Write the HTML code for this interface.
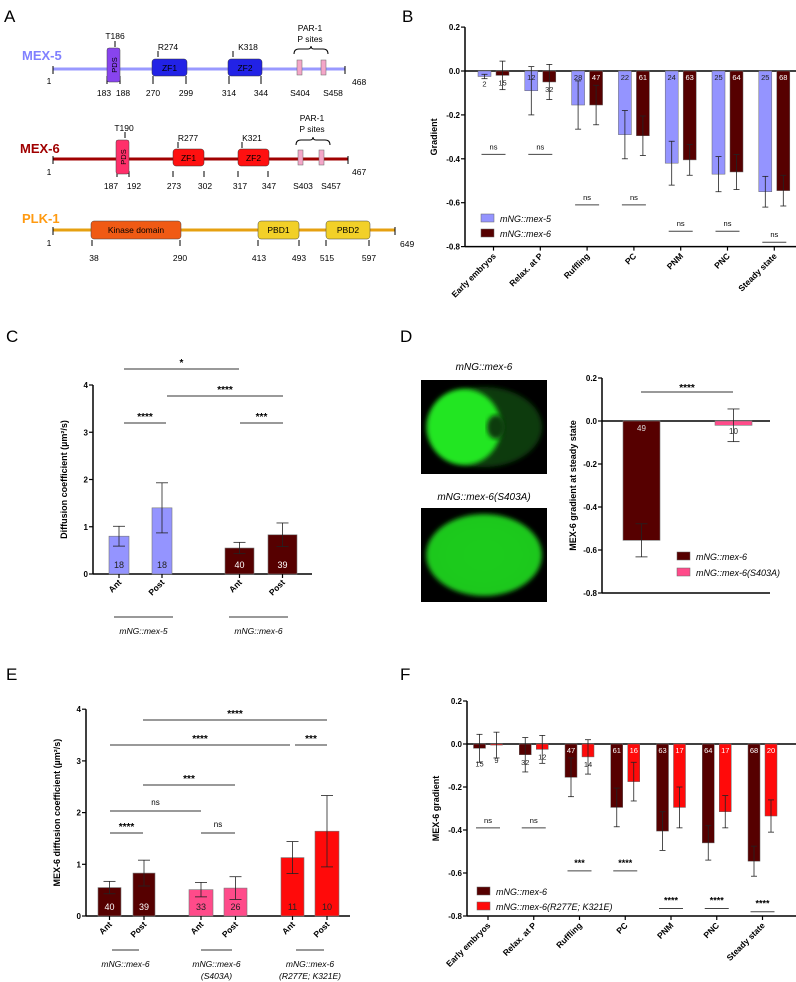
<!DOCTYPE html>
<html><head><meta charset="utf-8">
<style>
html,body{margin:0;padding:0;background:#fff;}
svg{display:block;font-family:"Liberation Sans",Arial,sans-serif;}
.pl{font-size:17px;}
</style></head>
<body>
<svg id="fig" width="796" height="982" viewBox="0 0 796 982" xmlns="http://www.w3.org/2000/svg">
<defs>
<radialGradient id="g2" cx="0.5" cy="0.5" r="0.6">
<stop offset="0" stop-color="#1ecc1e"/><stop offset="0.8" stop-color="#1ec81e"/><stop offset="1" stop-color="#0a3a0a"/></radialGradient>
<radialGradient id="g1" cx="0.4" cy="0.5" r="0.55">
<stop offset="0" stop-color="#26ee26"/><stop offset="0.85" stop-color="#22e022"/><stop offset="1" stop-color="#0d500d"/></radialGradient>
<filter id="blur"><feGaussianBlur stdDeviation="2.5"/></filter>
</defs>

<text x="4" y="22" class="pl">A</text>
<text x="402" y="22" class="pl">B</text>
<text x="6" y="342" class="pl">C</text>
<text x="400" y="342" class="pl">D</text>
<text x="6" y="680" class="pl">E</text>
<text x="400" y="680" class="pl">F</text>

<g font-size="8.5">
<g>
<text x="22" y="60" font-size="13" font-weight="bold" fill="#8080ff">MEX-5</text>
<line x1="53" y1="69" x2="345" y2="69" stroke="#9999ff" stroke-width="3"/>
<path d="M53,66v8M345,66v8M107,76v8M120,76v8M153,76v8M186,76v8M229,76v8M261,76v8M115,41v6M158,51v6M233,51v6" stroke="#000" stroke-width="1"/>
<rect x="107" y="48" width="13" height="34" rx="2" fill="#8844ee" stroke="#444" stroke-width="0.5"/>
<text transform="translate(117,65) rotate(-90)" text-anchor="middle" font-size="7.5">PDS</text>
<rect x="152" y="59" width="35" height="17" rx="3" fill="#2222e6" stroke="#333" stroke-width="0.5"/>
<text x="169.5" y="71" text-anchor="middle">ZF1</text>
<rect x="228" y="59" width="34" height="17" rx="3" fill="#2222e6" stroke="#333" stroke-width="0.5"/>
<text x="245" y="71" text-anchor="middle">ZF2</text>
<rect x="297" y="60" width="5" height="15" fill="#f4a6c8" stroke="#666" stroke-width="0.5"/>
<rect x="321" y="60" width="5" height="15" fill="#f4a6c8" stroke="#666" stroke-width="0.5"/>
<path d="M294,54q0,-5 5,-5h9q3,0 3,-3q0,3 3,3h9q5,0 5,5" fill="none" stroke="#000"/>
<text x="310" y="31" text-anchor="middle">PAR-1</text><text x="310" y="42" text-anchor="middle">P sites</text>
<text x="115" y="39" text-anchor="middle">T186</text><text x="168" y="50" text-anchor="middle">R274</text><text x="248" y="50" text-anchor="middle">K318</text>
<text x="49" y="84" text-anchor="middle">1</text><text x="352" y="85">468</text>
<text x="104" y="96" text-anchor="middle">183</text><text x="123" y="96" text-anchor="middle">188</text><text x="153" y="96" text-anchor="middle">270</text><text x="186" y="96" text-anchor="middle">299</text><text x="229" y="96" text-anchor="middle">314</text><text x="261" y="96" text-anchor="middle">344</text><text x="300" y="96" text-anchor="middle">S404</text><text x="333" y="96" text-anchor="middle">S458</text>
</g>
<g>
<text x="20" y="153" font-size="13" font-weight="bold" fill="#a00000">MEX-6</text>
<line x1="53" y1="159" x2="348" y2="159" stroke="#a00000" stroke-width="3"/>
<path d="M53,156v8M348,156v8M117,171v6M129,171v6M173,171v6M204,171v6M238,171v6M268,171v6M125,132v6M178,142v6M242,142v6" stroke="#000" stroke-width="1"/>
<rect x="116" y="140" width="13" height="34" rx="2" fill="#ff2f6a" stroke="#444" stroke-width="0.5"/>
<text transform="translate(126,157) rotate(-90)" text-anchor="middle" font-size="7.5">PDS</text>
<rect x="173" y="149" width="31" height="17" rx="3" fill="#ff1010" stroke="#333" stroke-width="0.5"/>
<text x="188.5" y="161" text-anchor="middle">ZF1</text>
<rect x="238" y="149" width="31" height="17" rx="3" fill="#ff1010" stroke="#333" stroke-width="0.5"/>
<text x="253.5" y="161" text-anchor="middle">ZF2</text>
<rect x="298" y="150" width="5" height="15" fill="#f4a6c8" stroke="#666" stroke-width="0.5"/>
<rect x="319" y="150" width="5" height="15" fill="#f4a6c8" stroke="#666" stroke-width="0.5"/>
<path d="M296,145q0,-5 5,-5h9q3,0 3,-3q0,3 3,3h9q5,0 5,5" fill="none" stroke="#000"/>
<text x="312" y="121" text-anchor="middle">PAR-1</text><text x="312" y="132" text-anchor="middle">P sites</text>
<text x="124" y="131" text-anchor="middle">T190</text><text x="188" y="141" text-anchor="middle">R277</text><text x="252" y="141" text-anchor="middle">K321</text>
<text x="49" y="175" text-anchor="middle">1</text><text x="352" y="175">467</text>
<text x="111" y="189" text-anchor="middle">187</text><text x="134" y="189" text-anchor="middle">192</text><text x="174" y="189" text-anchor="middle">273</text><text x="205" y="189" text-anchor="middle">302</text><text x="240" y="189" text-anchor="middle">317</text><text x="269" y="189" text-anchor="middle">347</text><text x="303" y="189" text-anchor="middle">S403</text><text x="331" y="189" text-anchor="middle">S457</text>
</g>
<g>
<text x="22" y="223" font-size="13" font-weight="bold" fill="#ff9a10">PLK-1</text>
<line x1="53" y1="230" x2="395" y2="230" stroke="#e6a010" stroke-width="3"/>
<path d="M53,227v8M395,227v8M92,240v6M180,240v6M258,240v6M299,240v6M326,240v6M369,240v6" stroke="#000"/>
<rect x="91" y="221" width="90" height="18" rx="3" fill="#f05a14" stroke="#444" stroke-width="0.5"/>
<text x="136" y="233" text-anchor="middle">Kinase domain</text>
<rect x="258" y="221" width="41" height="18" rx="3" fill="#f2d028" stroke="#444" stroke-width="0.5"/>
<text x="278.5" y="233" text-anchor="middle">PBD1</text>
<rect x="326" y="221" width="44" height="18" rx="3" fill="#f2d028" stroke="#444" stroke-width="0.5"/>
<text x="348" y="233" text-anchor="middle">PBD2</text>
<text x="49" y="246" text-anchor="middle">1</text><text x="400" y="247">649</text>
<text x="94" y="261" text-anchor="middle">38</text><text x="180" y="261" text-anchor="middle">290</text><text x="259" y="261" text-anchor="middle">413</text><text x="299" y="261" text-anchor="middle">493</text><text x="327" y="261" text-anchor="middle">515</text><text x="369" y="261" text-anchor="middle">597</text>
</g>
</g>

<g>
<text x="484" y="370" font-size="10" font-style="italic" text-anchor="middle">mNG::mex-6</text>
<rect x="421" y="380" width="126" height="94" fill="#000"/>
<ellipse cx="484" cy="427" rx="58" ry="40" fill="#0b3a0b" filter="url(#blur)"/>
<ellipse cx="464" cy="427" rx="37" ry="38" fill="#22e622" filter="url(#blur)"/>
<ellipse cx="496" cy="427" rx="9" ry="12" fill="#0b3a0b" filter="url(#blur)"/>
<text x="484" y="500" font-size="10" font-style="italic" text-anchor="middle">mNG::mex-6(S403A)</text>
<rect x="421" y="508" width="126" height="94" fill="#000"/>
<ellipse cx="484" cy="555" rx="58" ry="41" fill="url(#g2)" filter="url(#blur)"/>
</g>

<g id="charts"></g>
</svg>

<script>
const bCategories = ["Early embryos","Relax. at P","Ruffling","PC","PNM","PNC","Steady state"];
const bMex5 = [-0.025,-0.09,-0.155,-0.29,-0.42,-0.47,-0.55];
const bMex6 = [-0.02,-0.05,-0.155,-0.295,-0.405,-0.46,-0.545];
const bMex5Sd = [0.01,0.11,0.11,0.11,0.10,0.08,0.07];
const bMex6Sd = [0.065,0.08,0.09,0.09,0.07,0.08,0.07];
const bMex5N = [2,12,28,22,24,25,25];
const bMex6N = [15,32,47,61,63,64,68];
const bSigLabels = ["ns","ns","ns","ns","ns","ns","ns"];
const bSigLevels = [-0.38,-0.38,-0.61,-0.61,-0.73,-0.73,-0.78];
const gradTicks = [0.2,0,-0.2,-0.4,-0.6,-0.8];
const gradTickLabels = ["0.2","0.0","-0.2","-0.4","-0.6","-0.8"];

const cCategories = ["Ant","Post","Ant","Post"];
const cValues = [0.80,1.40,0.55,0.83];
const cSd = [0.21,0.53,0.12,0.25];
const cN = [18,18,40,39];
const diffTicks = [0,1,2,3,4];

const dCategories = ["mNG::mex-6","mNG::mex-6(S403A)"];
const dValues = [-0.555,-0.02];
const dSd = [0.077,0.076];
const dN = [49,10];

const eCategories = ["Ant","Post","Ant","Post","Ant","Post"];
const eValues = [0.55,0.83,0.51,0.54,1.13,1.64];
const eSd = [0.12,0.25,0.14,0.22,0.31,0.69];
const eN = [40,39,33,26,11,10];

const fMex6 = [-0.02,-0.05,-0.155,-0.295,-0.405,-0.46,-0.545];
const fMut = [-0.005,-0.025,-0.06,-0.175,-0.295,-0.315,-0.335];
const fMex6Sd = [0.065,0.08,0.09,0.09,0.09,0.08,0.07];
const fMutSd = [0.06,0.065,0.08,0.09,0.095,0.075,0.075];
const fMex6N = [15,32,47,61,63,64,68];
const fMutN = [9,12,14,16,17,17,20];
const fSigLabels = ["ns","ns","***","****","****","****","****"];
const fSigLevels = [-0.39,-0.39,-0.59,-0.59,-0.765,-0.765,-0.78];

const NS = "http://www.w3.org/2000/svg";
const root = document.getElementById("charts");
function mk(tag, attrs, parent){
  const el = document.createElementNS(NS, tag);
  for (const k in attrs) el.setAttribute(k, attrs[k]);
  (parent||root).appendChild(el);
  return el;
}
function txt(parent, x, y, s, extra){
  const t = mk("text", Object.assign({x:x,y:y}, extra||{}), parent);
  t.textContent = s;
  return t;
}
function lin(parent,x1,y1,x2,y2,c,w){ return mk("line",{x1:x1,y1:y1,x2:x2,y2:y2,stroke:c||"#000","stroke-width":w||1},parent); }
function errbar(parent,x,yv,ylo,yhi,hw){
  lin(parent,x,ylo,x,yhi,"#222",0.8);
  lin(parent,x-hw,ylo,x+hw,ylo,"#222",0.8);
  lin(parent,x-hw,yhi,x+hw,yhi,"#222",0.8);
}
function yAxis(g, x, ys, ticks, labels, top, bottom){
  lin(g,x,top,x,bottom,"#000",1.5);
  ticks.forEach((v,i)=>{
    const y = ys(v);
    lin(g,x-4,y,x,y,"#000",1.2);
    txt(g,x-5,y+3,labels[i],{"text-anchor":"end","font-size":"8","font-weight":"bold"});
  });
}
function ylabel(g,x,y,s){
  txt(g,0,0,s,{transform:"translate("+x+","+y+") rotate(-90)","text-anchor":"middle","font-size":"9","font-weight":"bold"});
}

function gradChart(cfg){
  const g = mk("g",{});
  
  
  const ys = v => cfg.y0 + (0 - v) * cfg.scale;
  yAxis(g, cfg.ax, ys, gradTicks, gradTickLabels, ys(0.2), ys(-0.8));
  lin(g,cfg.ax,ys(0),cfg.right,ys(0),"#000",1.5);
  lin(g,cfg.ax,ys(-0.8),cfg.right,ys(-0.8),"#000",1.5);
  ylabel(g,cfg.ax-28,ys(-0.3),cfg.ylab);
  const xs = i => cfg.c0 + i * cfg.step;
  bCategories.forEach((c,i)=>{
    const cx = xs(i);
    [[cfg.s1,cfg.sd1,cfg.n1,cfg.col1,-1,cfg.nc1],[cfg.s2,cfg.sd2,cfg.n2,cfg.col2,1,cfg.nc2]].forEach((s,k)=>{
      const v = s[0][i], bx = cx + s[4]*cfg.off - cfg.bw/2;
      const r = mk("rect",{x:bx,y:ys(0),width:cfg.bw,height:ys(v)-ys(0),fill:s[3],stroke:"#666","stroke-width":0.5},g);
      
      
      errbar(g,bx+cfg.bw/2,v,ys(v-s[1][i]),ys(Math.min(v+s[1][i],0.2)),3);
      const inside = (ys(v)-ys(0))>14;
      txt(g,bx+cfg.bw/2, inside? ys(0)+9 : ys(v)+(i===0&&cfg.early?18:10), String(s[2][i]),{"text-anchor":"middle","font-size":"7.5",fill: inside? s[5]:"#222"});
    });
    lin(g,cx-12,ys(cfg.sigL[i]),cx+12,ys(cfg.sigL[i]),"#444",1);
    txt(g,cx,ys(cfg.sigL[i])-5,cfg.sig[i],{"text-anchor":"middle","font-size": cfg.sig[i]==="ns"?"7.5":"9","font-weight":cfg.sig[i]==="ns"?"normal":"bold"});
    lin(g,cx,ys(-0.8),cx,ys(-0.8)+4,"#000",1.2);
    txt(g,0,0,c,{transform:"translate("+(cx+3)+","+(ys(-0.8)+10)+") rotate(-45)","text-anchor":"end","font-size":"8.5","font-weight":"bold"});
  });
  [[cfg.col1,cfg.lab1],[cfg.col2,cfg.lab2]].forEach((l,i)=>{
    const y = cfg.legY + i*15;
    mk("rect",{x:cfg.legX,y:y-5,width:13,height:8,fill:l[0],stroke:"#666","stroke-width":0.5},g);
    txt(g,cfg.legX+19,y+3,l[1],{"font-size":"9","font-style":"italic"});
  });
}
gradChart({name:"gradient-chart-b",ax:465,y0:71,scale:219.5,right:797,c0:493.5,step:46.8,off:9,bw:13,
  s1:bMex5,s2:bMex6,sd1:bMex5Sd,sd2:bMex6Sd,n1:bMex5N,n2:bMex6N,col1:"#9494ff",col2:"#560000",nc1:"#222",nc2:"#fff",
  k1:"mex5",k2:"mex6",sig:bSigLabels,sigL:bSigLevels,ylab:"Gradient",legX:481,legY:219,lab1:"mNG::mex-5",lab2:"mNG::mex-6",early:false});
gradChart({name:"gradient-chart-f",ax:467,y0:744,scale:215,right:797,c0:488,step:45.75,off:8.5,bw:12,
  s1:fMex6,s2:fMut,sd1:fMex6Sd,sd2:fMutSd,n1:fMex6N,n2:fMutN,col1:"#560000",col2:"#ff0a0a",nc1:"#fff",nc2:"#fff",
  k1:"mex6",k2:"mex6-r277e-k321e",sig:fSigLabels,sigL:fSigLevels,ylab:"MEX-6 gradient",legX:477,legY:892,lab1:"mNG::mex-6",lab2:"mNG::mex-6(R277E; K321E)",early:true});

function diffChart(cfg){
  const g = mk("g",{});
  
  
  const ys = v => cfg.y0 - v*cfg.unit;
  yAxis(g,cfg.ax,ys,diffTicks,diffTicks.map(String),ys(4),ys(0));
  lin(g,cfg.ax,ys(0),cfg.right,ys(0),"#000",1.5);
  ylabel(g,cfg.ax-26,ys(2),cfg.ylab);
  cfg.vals.forEach((v,i)=>{
    const x0 = cfg.xl[i], w = cfg.bw[i], cx = x0+w/2;
    const r = mk("rect",{x:x0,y:ys(v),width:w,height:ys(0)-ys(v),fill:cfg.cols[i],stroke:"#777","stroke-width":0.6},g);
    
    
    errbar(g,cx,v,ys(v-cfg.sd[i]),ys(v+cfg.sd[i]),6);
    txt(g,cx,ys(0)-6,String(cfg.n[i]),{"text-anchor":"middle","font-size":"9",fill:cfg.ncol[i]});
    lin(g,cx,ys(0),cx,ys(0)+4,"#000",1.2);
    txt(g,0,0,cfg.cats[i],{transform:"translate("+(cx+3)+","+(ys(0)+9)+") rotate(-45)","text-anchor":"end","font-size":"8.5","font-weight":"bold"});
  });
  cfg.sigs.forEach(s=>{
    lin(g,s[0],s[2],s[1],s[2],"#333",1);
    txt(g,(s[0]+s[1])/2,s[2]-(s[3]==="ns"?6:3),s[3],{"text-anchor":"middle","font-size":s[3]==="ns"?"8":"10","font-weight":s[3]==="ns"?"normal":"bold"});
  });
  cfg.groups.forEach(gr=>{
    lin(g,gr[0],cfg.gy,gr[1],cfg.gy,"#333",1);
    gr[2].forEach((t,j)=>txt(g,(gr[0]+gr[1])/2,cfg.gy+17+j*12,t,{"text-anchor":"middle","font-size":"8.5","font-style":"italic"}));
  });
}
diffChart({name:"diffusion-chart-c",ax:93,y0:574,unit:47.25,right:312,ylab:"Diffusion coefficient (µm²/s)",
  vals:cValues,sd:cSd,n:cN,cats:cCategories,xl:[109,152,225,268],bw:[20,20,29,29],
  cols:["#9494ff","#9494ff","#560000","#560000"],ncol:["#222","#222","#fff","#fff"],keys:["mex5","mex5","mex6","mex6"],
  sigs:[[124,239,369,"*"],[167,283,396,"****"],[124,166,423,"****"],[240,283,423,"***"]],
  gy:617,groups:[[114,173,["mNG::mex-5"]],[229,288,["mNG::mex-6"]]]});
diffChart({name:"diffusion-chart-e",ax:86,y0:916,unit:51.7,right:350,ylab:"MEX-6 diffusion coefficient (µm²/s)",
  vals:eValues,sd:eSd,n:eN,cats:eCategories,xl:[98,133,189,224,281,315],bw:[23,22,24,23,23,24],
  cols:["#560000","#560000","#ff4b8a","#ff4b8a","#ff0a0a","#ff0a0a"],ncol:["#fff","#fff","#222","#222","#222","#222"],
  keys:["mex6","mex6","s403a","s403a","r277e-k321e","r277e-k321e"],
  sigs:[[143,327,720,"****"],[110,290,745,"****"],[295,327,745,"***"],[143,235,785,"***"],[110,201,811,"ns"],[110,143,833,"****"],[201,235,833,"ns"]],
  gy:950,groups:[[112,139,["mNG::mex-6"]],[201,232,["mNG::mex-6","(S403A)"]],[296,324,["mNG::mex-6","(R277E; K321E)"]]]});

(function(){
  const g = mk("g",{});
  
  
  const ys = v => 421 - v*215;
  yAxis(g,602,ys,gradTicks,gradTickLabels,ys(0.2),ys(-0.8));
  lin(g,602,ys(0),770,ys(0),"#000",1.5);
  lin(g,602,ys(-0.8),770,ys(-0.8),"#000",1.5);
  ylabel(g,576,ys(-0.3),"MEX-6 gradient at steady state");
  const xl=[623,715], cols=["#560000","#ff4b8a"], keys=["mex6","mex6-s403a"];
  dValues.forEach((v,i)=>{
    const r = mk("rect",{x:xl[i],y:ys(0),width:37,height:ys(v)-ys(0),fill:cols[i],stroke:"#777","stroke-width":0.6},g);
    
    
    errbar(g,xl[i]+18.5,v,ys(v-dSd[i]),ys(v+dSd[i]),6);
    txt(g,xl[i]+18.5,ys(0)+(i===0?10:13),String(dN[i]),{"text-anchor":"middle","font-size":"8",fill:i===0?"#ddd":"#222"});
  });
  lin(g,641,392,733,392,"#333",1);
  txt(g,687,391,"****",{"text-anchor":"middle","font-size":"10","font-weight":"bold"});
  dCategories.forEach((c,i)=>{
    const y=557+i*16;
    mk("rect",{x:677,y:y-5,width:13,height:8,fill:cols[i],stroke:"#666","stroke-width":0.5},g);
    txt(g,696,y+3,c,{"font-size":"9","font-style":"italic"});
  });
})();
</script>
</body></html>
